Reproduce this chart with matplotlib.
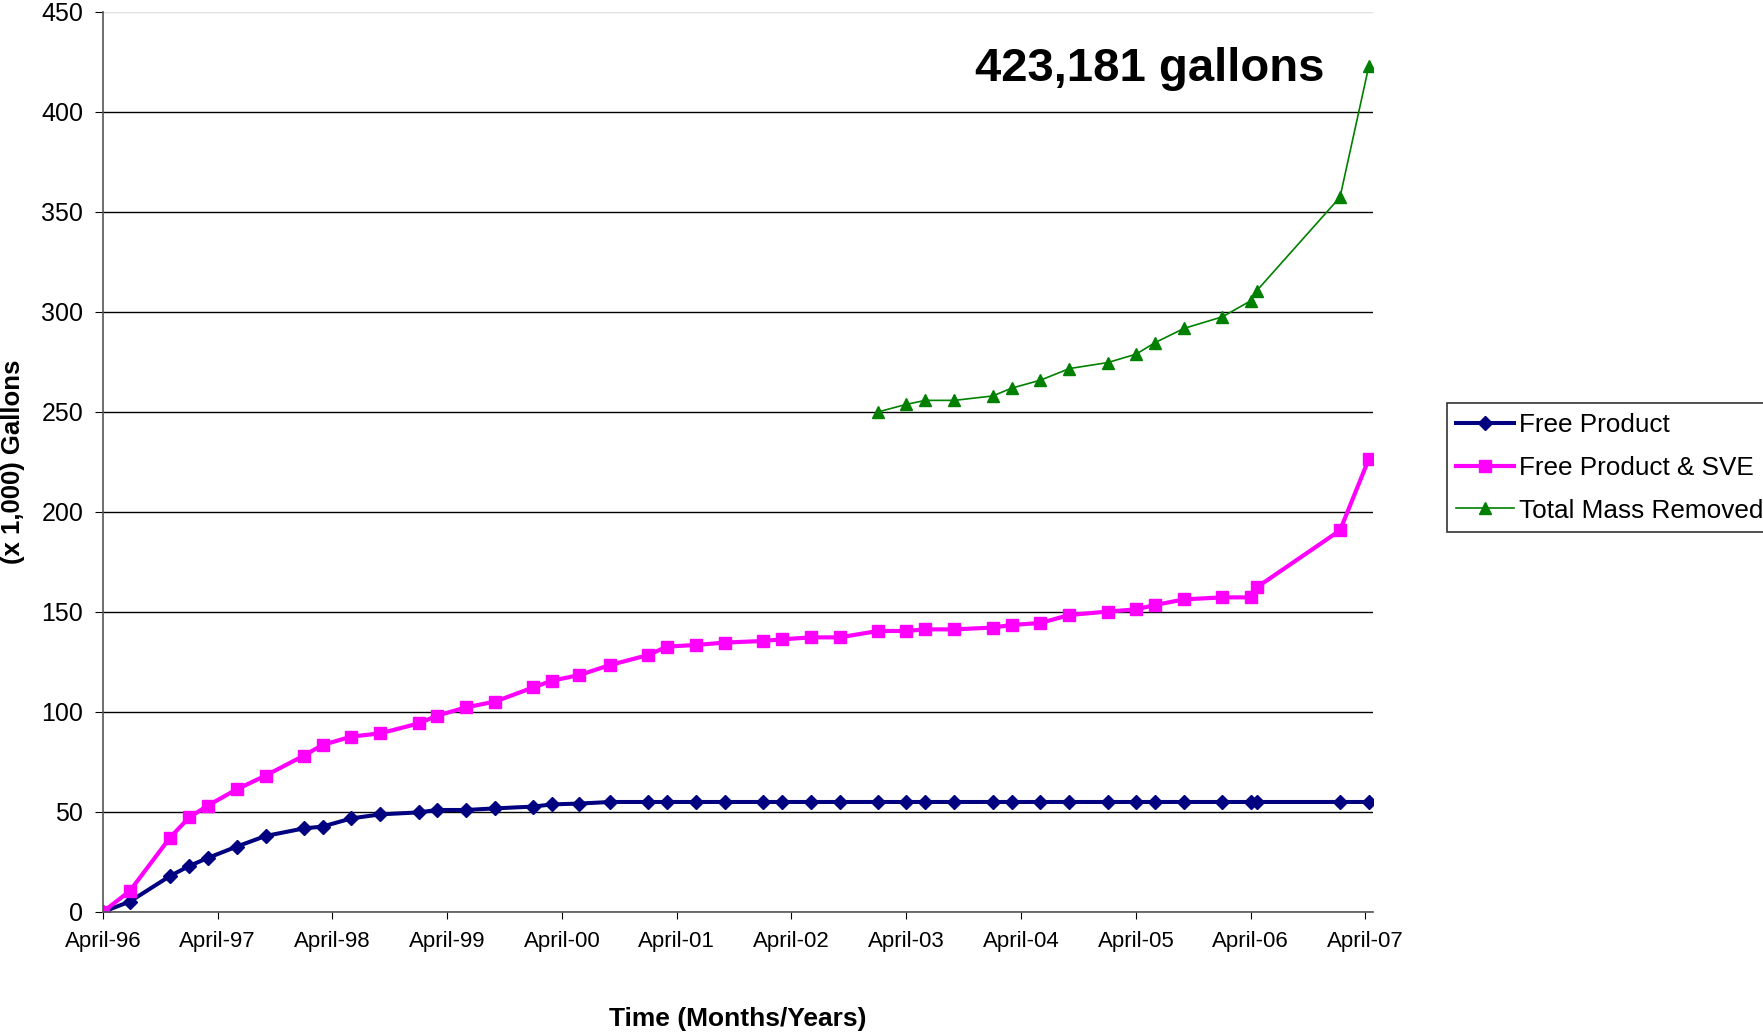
import matplotlib
matplotlib.use('Agg')
import matplotlib.pyplot as plt
import matplotlib.dates as mdates
import pandas as pd

plt.rcParams['font.family'] = 'Liberation Sans'

# sampling dates (shared by all three series)
dates = pd.to_datetime([
    '1996-04-01', '1996-06-26', '1996-11-01', '1997-01-01', '1997-03-01',
    '1997-06-01', '1997-09-01', '1998-01-01', '1998-03-01', '1998-06-01',
    '1998-09-01', '1999-01-01', '1999-03-01', '1999-06-01', '1999-09-01',
    '2000-01-01', '2000-03-01', '2000-05-25', '2000-09-01', '2001-01-01',
    '2001-03-01', '2001-06-01', '2001-09-01', '2002-01-01', '2002-03-01',
    '2002-06-01', '2002-09-01', '2003-01-01', '2003-04-01', '2003-06-01',
    '2003-09-01', '2004-01-01', '2004-03-01', '2004-06-01', '2004-09-01',
    '2005-01-01', '2005-04-01', '2005-06-01', '2005-09-01', '2006-01-01',
    '2006-04-01', '2006-04-20', '2007-01-10', '2007-04-12'])

# gallons (x 1,000)
free_product = [0, 5.2, 18, 23, 27, 32.7, 38, 41.8, 42.7, 46.8,
                48.8, 49.8, 51, 51, 51.8, 52.7, 53.8, 54.2, 55, 55,
                55, 55, 55, 55, 55, 55, 55, 55, 55, 55,
                55, 55, 55, 55, 55, 55, 55, 55, 55, 55,
                55, 55, 55, 55]
free_product_sve = [0, 10.5, 37.2, 47.3, 53.2, 61.3, 68.2, 78.2, 83.5, 87.7,
                    89.3, 94.3, 98.2, 102.3, 105.2, 112.3, 115.7, 118.4, 123.5, 128.5,
                    132.7, 133.5, 134.7, 135.5, 136.3, 137.3, 137.3, 140.5, 140.5, 141.3,
                    141.3, 142.2, 143.5, 144.5, 148.5, 150.2, 151.3, 153.5, 156.3, 157.3,
                    157.3, 162.3, 190.8, 226.6]
total_mass = [250, 253.8, 255.8, 255.8, 258, 261.9, 265.9, 271.7, 274.7, 278.9,
              284.7, 291.8, 297.6, 305.6, 310.6, 357.4, 423.181]
total_dates = dates[27:]

fig = plt.figure(figsize=(17.63, 10.32), dpi=100)
ax = fig.add_axes([0.0583, 0.1163, 0.7205, 0.8721])

ax.plot(dates, free_product, color='#000080', lw=2.9, marker='D', ms=7.5,
        label='Free Product')
ax.plot(dates, free_product_sve, color='#FF00FF', lw=3.0, marker='s', ms=8.5,
        label='Free Product & SVE')
ax.plot(total_dates, total_mass, color='#008000', lw=1.2, marker='^', ms=9,
        label='Total Mass Removed')

ax.set_ylim(0, 450)
ax.set_yticks(range(0, 451, 50))
ax.set_xlim(pd.Timestamp('1996-04-01'), pd.Timestamp('2007-04-25'))
ax.xaxis.set_major_locator(mdates.YearLocator(1, month=4, day=1))
ax.xaxis.set_major_formatter(mdates.DateFormatter('%B-%y'))

ax.grid(axis='y', color='black', lw=1)
ax.yaxis.get_gridlines()[-1].set_color('#e0e0e0')
ax.set_axisbelow(True)
for s in ['top', 'right']:
    ax.spines[s].set_visible(False)
for s in ['left', 'bottom']:
    ax.spines[s].set_color('#555555')
    ax.spines[s].set_linewidth(1.2)
ax.tick_params(axis='y', labelsize=18, length=6, pad=8)
ax.tick_params(axis='x', labelsize=16, length=5, pad=9)

ax.set_ylabel('(x 1,000) Gallons', fontsize=18.5, fontweight='bold', va='center')
ax.yaxis.set_label_coords(-0.0706, 0.5)
ax.set_xlabel('Time (Months/Years)', fontsize=19, fontweight='bold', va='center')
ax.xaxis.set_label_coords(0.5, -0.119)

ax.text(0.962, 0.923, '423,181 gallons', transform=ax.transAxes, ha='right',
        va='baseline', fontsize=34, fontweight='bold')

leg = fig.legend(loc='upper left', bbox_to_anchor=(0.8205, 0.6095), fontsize=18.8,
                 frameon=True, fancybox=False, edgecolor='black', handlelength=2.2,
                 handletextpad=0.2, borderpad=0.38, labelspacing=0.72,
                 borderaxespad=0)
leg.get_frame().set_linewidth(1.2)

fig.savefig('out.png', dpi=100)
